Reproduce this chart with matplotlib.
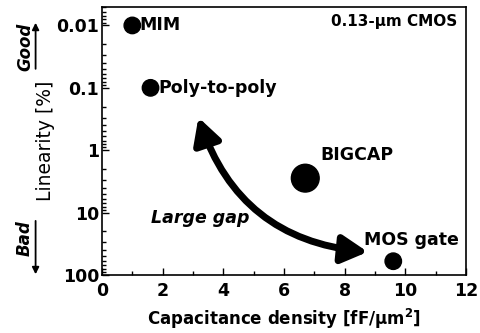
import matplotlib
matplotlib.use("Agg")
import matplotlib.pyplot as plt
import matplotlib.ticker as ticker
from matplotlib.patches import FancyArrowPatch

plt.rcParams["font.family"] = ["DejaVu Sans"]
plt.rcParams["mathtext.fontset"] = "dejavusans"

# capacitor options in 0.13-um CMOS
names = ["MIM", "Poly-to-poly", "BIGCAP", "MOS gate"]
density = [1.0, 1.6, 6.7, 9.6]          # fF/um^2
linearity = [0.01, 0.1, 2.8, 60.0]       # %
marker_size = [140, 140, 400, 140]

x_ticks = [0, 2, 4, 6, 8, 10, 12]
y_ticks = [0.01, 0.1, 1, 10, 100]
y_tick_labels = ["0.01", "0.1", "1", "10", "100"]

gap_start = (3.15, 0.27)
gap_end = (8.85, 43.0)

fig = plt.figure(figsize=(4.81, 3.33), dpi=100)
ax = fig.add_axes([0.212, 0.174, 0.757, 0.806])

ax.scatter(density, linearity, s=marker_size, color="black", zorder=3)

ax.set_yscale("log")
ax.set_xlim(0, 12)
ax.set_ylim(100, 0.005)
ax.set_xticks(x_ticks)
ax.set_xticklabels([str(v) for v in x_ticks], fontsize=12.5, fontweight="bold")
ax.xaxis.set_minor_locator(ticker.MultipleLocator(1))
ax.set_yticks(y_ticks)
ax.set_yticklabels(y_tick_labels, fontsize=12.5, fontweight="bold")
ax.yaxis.set_minor_locator(ticker.LogLocator(base=10, subs=range(2, 10)))
ax.yaxis.set_minor_formatter(ticker.NullFormatter())
ax.tick_params(which="both", direction="in", top=False, right=False, width=1)
ax.tick_params(which="major", length=5)
ax.tick_params(axis="x", which="major", pad=5)
ax.tick_params(axis="y", which="major", pad=2)
ax.tick_params(which="minor", length=3)
for sp in ax.spines.values():
    sp.set_linewidth(1.2)

ax.set_xlabel("Capacitance density [fF/μm$^\\mathbf{2}$]", fontsize=12,
              fontweight="bold", labelpad=5)
ax.set_ylabel("Linearity [%]", fontsize=13.5, labelpad=1)

# point labels
ax.text(1.22, 0.01, "MIM", fontsize=12.5, fontweight="bold", va="center")
ax.text(1.85, 0.1, "Poly-to-poly", fontsize=12.5, fontweight="bold",
        va="center")
ax.text(7.2, 1.2, "BIGCAP", fontsize=12.5, fontweight="bold", va="center")
ax.text(11.75, 27, "MOS gate", fontsize=12.5, fontweight="bold", va="center",
        ha="right")
ax.text(11.7, 0.0085, "0.13-μm CMOS", fontsize=11, fontweight="bold",
        va="center", ha="right")
ax.text(1.6, 12, "Large gap", fontsize=12.5, fontweight="bold",
        fontstyle="italic", va="center", ha="left")

arrow = FancyArrowPatch(gap_end, gap_start, connectionstyle="arc3,rad=-0.33",
                        arrowstyle="<|-|>,head_length=7,head_width=3.8",
                        color="black", lw=5, mutation_scale=2.2, zorder=4)
ax.add_patch(arrow)

# good / bad direction hints
fig.text(0.052, 0.86, "Good", rotation=90, fontsize=12, fontweight="bold",
         fontstyle="italic", ha="center", va="center")
fig.text(0.052, 0.285, "Bad", rotation=90, fontsize=12, fontweight="bold",
         fontstyle="italic", ha="center", va="center")
fig.add_artist(FancyArrowPatch((0.074, 0.785), (0.074, 0.94),
                               transform=fig.transFigure, arrowstyle="-|>",
                               mutation_scale=10, lw=1.3, color="black"))
fig.add_artist(FancyArrowPatch((0.074, 0.345), (0.074, 0.168),
                               transform=fig.transFigure, arrowstyle="-|>",
                               mutation_scale=10, lw=1.3, color="black"))

fig.savefig("out.png", dpi=100)
